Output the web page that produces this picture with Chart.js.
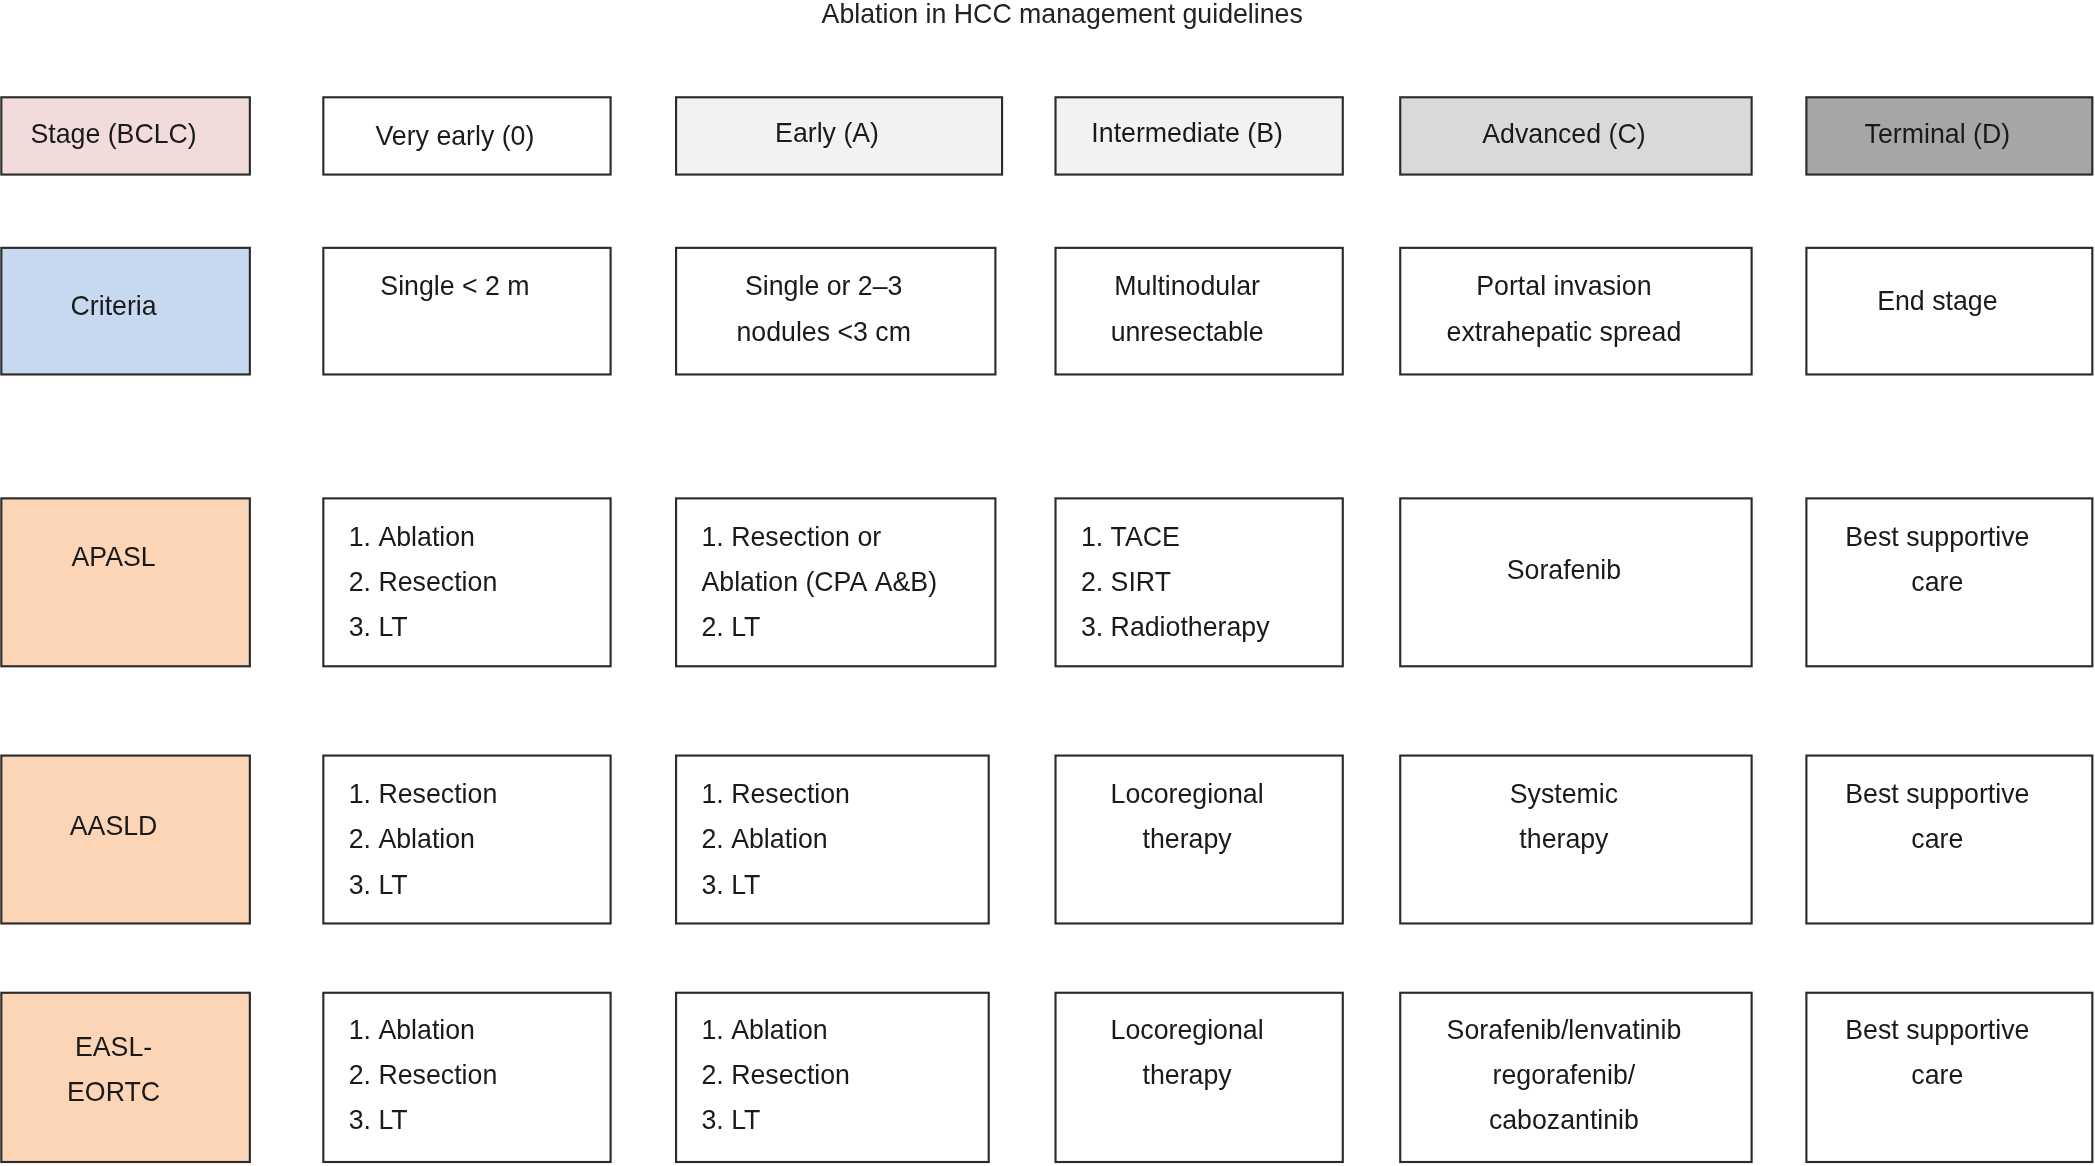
<!DOCTYPE html>
<html><head><meta charset="utf-8">
<script src="https://cdn.jsdelivr.net/npm/chart.js@4.4.0/dist/chart.umd.min.js"></script>
<style>html,body{margin:0;padding:0;background:#fff}#wrap{width:2095px;height:1166px}</style>
</head><body><div id="wrap"><canvas id="c"></canvas></div>
<script>
const title = "Ablation in HCC management guidelines";
// Column spans (diagram units) and row spans
const colSpans = [[1,187],[242,457],[506,745],[790,1005],[1048,1311],[1352,1566]];
const rowSpans = [[73,131],[186,281],[374,500],[567,693],[745,872]];
const col2Override = {0:[506,750],3:[506,740],4:[506,740]};
const rowFills = [
  ["#f2dcdb","#ffffff","#f2f2f2","#f2f2f2","#d9d9d9","#a6a6a6"],
  ["#c6d9f1","#ffffff","#ffffff","#ffffff","#ffffff","#ffffff"],
  ["#fbd5b5","#ffffff","#ffffff","#ffffff","#ffffff","#ffffff"],
  ["#fbd5b5","#ffffff","#ffffff","#ffffff","#ffffff","#ffffff"],
  ["#fbd5b5","#ffffff","#ffffff","#ffffff","#ffffff","#ffffff"]
];
// Each cell: [lines, align ('c' or 'l'), first line y]
const stageRow = [[["Stage (BCLC)"],"c",102],[["Very early (0)"],"c",103],[["Early (A)"],"c",101],[["Intermediate (B)"],"c",101],[["Advanced (C)"],"c",102],[["Terminal (D)"],"c",102]];
const criteriaRow = [[["Criteria"],"c",231],[["Single < 2 m"],"c",216],[["Single or 2–3","nodules <3 cm"],"c",216],[["Multinodular","unresectable"],"c",216],[["Portal invasion","extrahepatic spread"],"c",216],[["End stage"],"c",227]];
const apaslRow = [[["APASL"],"c",419],[["1. Ablation","2. Resection","3. LT"],"l",404],[["1. Resection or","Ablation (CPA A&B)","2. LT"],"l",404],[["1. TACE","2. SIRT","3. Radiotherapy"],"l",404],[["Sorafenib"],"c",429],[["Best supportive","care"],"c",404]];
const aasldRow = [[["AASLD"],"c",621],[["1. Resection","2. Ablation","3. LT"],"l",597],[["1. Resection","2. Ablation","3. LT"],"l",597],[["Locoregional","therapy"],"c",597],[["Systemic","therapy"],"c",597],[["Best supportive","care"],"c",597]];
const easlRow = [[["EASL-","EORTC"],"c",787],[["1. Ablation","2. Resection","3. LT"],"l",774],[["1. Ablation","2. Resection","3. LT"],"l",774],[["Locoregional","therapy"],"c",774],[["Sorafenib/lenvatinib","regorafenib/","cabozantinib"],"c",774],[["Best supportive","care"],"c",774]];
const rows = [stageRow, criteriaRow, apaslRow, aasldRow, easlRow];

const boxPlugin = {
  id:'boxes',
  afterDraw(chart){
    const {ctx, scales:{x,y}} = chart;
    const sx = v=>x.getPixelForValue(v), sy = v=>y.getPixelForValue(v);
    const k = (sx(1568)-sx(0))/1568;
    ctx.save();
    ctx.fillStyle="#222"; ctx.textAlign="center"; ctx.textBaseline="middle";
    ctx.font = (20*k)+"px 'Liberation Sans', Arial, sans-serif";
    ctx.fillText(title, sx(795), sy(12));
    rows.forEach((row,r)=>{
      row.forEach((cell,c)=>{
        let xs = colSpans[c];
        if(c===2 && col2Override[r]) xs = col2Override[r];
        const ys = rowSpans[r];
        const x0=sx(xs[0]), x1=sx(xs[1]), y0=sy(ys[0]), y1=sy(ys[1]);
        ctx.fillStyle = rowFills[r][c];
        ctx.fillRect(x0,y0,x1-x0,y1-y0);
        ctx.strokeStyle="#2b2b2b"; ctx.lineWidth=1.6*k;
        ctx.strokeRect(x0,y0,x1-x0,y1-y0);
        const [lines,align,ty]=cell;
        ctx.fillStyle="#1a1a1a";
        ctx.textAlign = align==='l'?'left':'center';
        const tx = align==='l'? sx(xs[0]+19) : sx((xs[0]+xs[1])/2-9);
        lines.forEach((t,i)=>ctx.fillText(t, tx, sy(ty+34*i)));
      });
    });
    ctx.restore();
  }
};

new Chart(document.getElementById('c'),{
  type:'scatter',
  data:{datasets:[{data:[]}]},
  options:{
    responsive:true, maintainAspectRatio:false, animation:false,
    layout:{padding:0},
    plugins:{legend:{display:false},tooltip:{enabled:false},title:{display:false}},
    scales:{
      x:{type:'linear',min:0,max:1568,display:false},
      y:{type:'linear',min:0,max:875,reverse:true,display:false}
    }
  },
  plugins:[boxPlugin]
});
</script></body></html>
